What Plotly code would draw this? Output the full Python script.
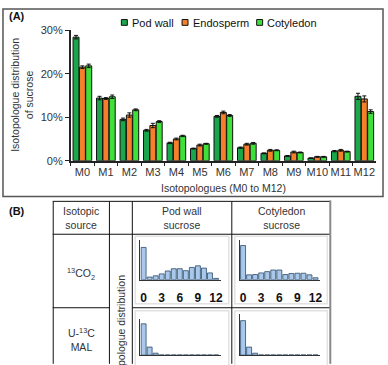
import plotly.graph_objects as go

# ---------------- data ----------------
categories = ["M0", "M1", "M2", "M3", "M4", "M5", "M6", "M7", "M8", "M9", "M10", "M11", "M12"]
series_names = ["Pod wall", "Endosperm", "Cotyledon"]
pod_wall = [28.4, 14.4, 9.5, 7.0, 4.1, 2.8, 10.2, 3.0, 1.7, 1.1, 0.6, 2.2, 14.8]
endosperm = [21.5, 14.3, 10.5, 8.1, 5.0, 3.6, 11.1, 3.8, 2.4, 2.0, 0.9, 2.4, 14.2]
cotyledon = [21.8, 14.7, 11.7, 9.0, 5.7, 3.9, 10.4, 4.0, 2.4, 1.9, 0.9, 2.1, 11.3]
pod_wall_err = [0.4, 0.4, 0.3, 0.2, 0.15, 0.1, 0.2, 0.15, 0.1, 0.1, 0.05, 0.15, 0.7]
endosperm_err = [0.3, 0.2, 0.5, 0.5, 0.2, 0.2, 0.3, 0.2, 0.2, 0.2, 0.1, 0.2, 0.7]
cotyledon_err = [0.4, 0.4, 0.2, 0.2, 0.15, 0.1, 0.2, 0.2, 0.1, 0.1, 0.1, 0.1, 0.4]
series_colors = ["#1aa64b", "#f4802b", "#3fe03a"]
y_tickvals = [0, 10, 20, 30]
y_ticktext = ["0%", "10%", "20%", "30%"]

# Panel B small histograms (relative units)
hist_x = [0, 1, 2, 3, 4, 5, 6, 7, 8, 9, 10, 11, 12]
hist_ticks = [0, 3, 6, 9, 12]
podwall_13co2 = [100, 8, 12, 18, 27, 34, 34, 28, 38, 43, 36, 21, 4]
cotyledon_13co2 = [106, 15, 16, 21, 25, 30, 30, 16, 19, 20, 20, 15, 6]
podwall_mal = [97, 25, 6, 0.6, 0.6, 0.6, 0.6, 0.6, 0.6, 0.6, 0.6, 0.6, 0.6]
cotyledon_mal = [107, 25, 6, 0.6, 0.6, 0.6, 0.6, 0.6, 0.6, 0.6, 0.6, 0.6, 0.6]

W, H = 388, 365
FONT = "Liberation Sans, Arial, sans-serif"
TXT = "#333333"


def fx(x):
    return x / W


def fy(y):
    return 1 - y / H


fig = go.Figure()

# ---------------- panel A ----------------
for name, vals, errs, col in zip(series_names, [pod_wall, endosperm, cotyledon],
                                 [pod_wall_err, endosperm_err, cotyledon_err], series_colors):
    fig.add_trace(go.Bar(
        x=categories, y=vals, name=name, showlegend=False,
        marker=dict(color=col, line=dict(color="#111111", width=1)),
        error_y=dict(type="data", array=errs, color="#111111", thickness=1, width=2),
        xaxis="x", yaxis="y",
    ))

# ---------------- panel B histograms ----------------
hist_specs = [
    (podwall_13co2, "x2", "y2", (141, 222), (283, 242), 123, True),
    (cotyledon_13co2, "x3", "y3", (241, 322), (283, 242), 123, True),
    (podwall_mal, "x4", "y4", (141, 222), (361, 324), 111, False),
    (cotyledon_mal, "x5", "y5", (241, 322), (361, 318), 129, False),
]
layout_axes = {}
for vals, xa, ya, (x0, x1), (yb, yt), ymax, labels in hist_specs:
    fig.add_trace(go.Bar(
        x=hist_x, y=vals, width=0.82, showlegend=False,
        marker=dict(color="#a8c9ec", line=dict(color="#2c4a6a", width=0.8)),
        xaxis=xa, yaxis=ya,
    ))
    layout_axes["xaxis" + xa[1:]] = dict(
        domain=[fx(x0), fx(x1)], range=[-0.55, 12.8], anchor=ya,
        showgrid=False, zeroline=False, showline=True, linecolor="#333333", linewidth=1.2,
        tickvals=hist_ticks, showticklabels=labels, ticks="",
        ticklabelstandoff=7,
        tickfont=dict(family=FONT, size=12, color="#111111", weight="bold"),
    )
    layout_axes["yaxis" + ya[1:]] = dict(
        domain=[fy(yb), fy(yt)], range=[0, ymax], anchor=xa,
        showgrid=False, zeroline=False, showline=True, linecolor="#333333", linewidth=1.2,
        showticklabels=False, ticks="",
    )

# ---------------- shapes ----------------
shapes = []
# panel A frame
shapes.append(dict(type="rect", xref="paper", yref="paper", x0=fx(3), x1=fx(385), y0=fy(197), y1=fy(3),
                   line=dict(color="#555555", width=1.5)))
# manual legend squares
legend_sq = [122, 183, 258]
legend_tx = [131, 192, 266]
for sx, col in zip(legend_sq, series_colors):
    shapes.append(dict(type="rect", xref="paper", yref="paper", x0=fx(sx), x1=fx(sx + 6), y0=fy(20), y1=fy(14),
                       line=dict(color="#111111", width=1), fillcolor=col))


def hline(y, x0, x1, color="#111111", w=1):
    shapes.append(dict(type="line", xref="paper", yref="paper", x0=fx(x0), x1=fx(x1), y0=fy(y), y1=fy(y),
                       line=dict(color=color, width=w)))


def vline(x, y0, y1, color="#111111", w=1):
    shapes.append(dict(type="line", xref="paper", yref="paper", x0=fx(x), x1=fx(x), y0=fy(y0), y1=fy(y1),
                       line=dict(color=color, width=w)))


# light inner frames of embedded histograms
for (x0, x1, y0, y1) in [(136, 230, 238, 308), (236, 329, 238, 308), (136, 230, 315, 372), (236, 329, 315, 372)]:
    shapes.append(dict(type="rect", xref="paper", yref="paper", x0=fx(x0), x1=fx(x1), y0=fy(y1), y1=fy(y0),
                       line=dict(color="#e2e2e2", width=1.5)))

hline(202, 53, 332)
hline(236, 53, 332)
hline(312, 53, 110)
hline(312, 133, 332)
vline(53.5, 202, 370)
vline(110, 202, 370)
vline(133, 202, 370)
vline(233, 202, 370)
vline(332, 201, 370, color="#8a8a8a", w=2)

# ---------------- annotations ----------------
ann = []
ann.append(dict(text="<b>(A)</b>", x=fx(7), y=fy(10), xanchor="left", yanchor="middle"))
ann.append(dict(text="<b>(B)</b>", x=fx(7), y=fy(212), xanchor="left", yanchor="middle"))
for tx, name in zip(legend_tx, series_names):
    ann.append(dict(text=name, x=fx(tx), y=fy(17.5), xanchor="left", yanchor="middle",
                    font=dict(family=FONT, size=11, color="#111111")))
ann.append(dict(text="Isotopologue distribution<br>of sucrose", x=fx(22), y=fy(92), textangle=-90,
                xanchor="center", yanchor="middle", font=dict(family=FONT, size=10.5, color=TXT)))
ann.append(dict(text="Isotopologues (M0 to M12)", x=fx(224.5), y=fy(188), xanchor="center", yanchor="middle",
                font=dict(family=FONT, size=10.5, color=TXT)))
ann.append(dict(text="Isotopic<br>source", x=fx(81.5), y=fy(219), xanchor="center", yanchor="middle",
                font=dict(family=FONT, size=10.5, color=TXT)))
ann.append(dict(text="Pod wall<br>sucrose", x=fx(183), y=fy(219), xanchor="center", yanchor="middle",
                font=dict(family=FONT, size=10.5, color=TXT)))
ann.append(dict(text="Cotyledon<br>sucrose", x=fx(283), y=fy(219), xanchor="center", yanchor="middle",
                font=dict(family=FONT, size=10.5, color=TXT)))
ann.append(dict(text="<sup>13</sup>CO<sub>2</sub>", x=fx(81.5), y=fy(277), xanchor="center", yanchor="middle",
                font=dict(family=FONT, size=10.5, color=TXT)))
ann.append(dict(text="U-<sup>13</sup>C<br>MAL", x=fx(81.5), y=fy(345), xanchor="center", yanchor="middle",
                font=dict(family=FONT, size=10.5, color=TXT)))
ann.append(dict(text="Isotopologue distribution", x=fx(121.5), y=fy(337), textangle=-90,
                xanchor="center", yanchor="middle", font=dict(family=FONT, size=10.5, color=TXT)))
for a in ann:
    a.setdefault("xref", "paper")
    a.setdefault("yref", "paper")
    a.setdefault("showarrow", False)
    a.setdefault("font", dict(family=FONT, size=11, color="#111111"))

fig.update_layout(
    width=W, height=H, autosize=False,
    margin=dict(l=0, r=0, t=0, b=0, pad=0),
    paper_bgcolor="white", plot_bgcolor="white",
    barmode="group", bargap=0.19, bargroupgap=0.06,
    showlegend=False,
    font=dict(family=FONT, size=11, color=TXT),
    xaxis=dict(domain=[fx(71), fx(378)], anchor="y", type="category",
               showline=True, linecolor="#222222", linewidth=1.5, tickangle=0,
               ticks="outside", tickson="boundaries", ticklen=4, tickcolor="#222222",
               showgrid=False, tickfont=dict(family=FONT, size=11, color=TXT)),
    yaxis=dict(domain=[fy(160), fy(25)], anchor="x", range=[0, 30],
               tickvals=y_tickvals, ticktext=y_ticktext, tickmode="array",
               showline=True, linecolor="#222222", linewidth=1.5,
               ticks="outside", ticklen=4, tickcolor="#222222",
               showgrid=False, zeroline=False, tickfont=dict(family=FONT, size=11, color=TXT)),
    shapes=shapes, annotations=ann,
    **layout_axes,
)

fig.write_html("out.html", config={"displayModeBar": False},
               post_script="document.body.style.margin='0';")
